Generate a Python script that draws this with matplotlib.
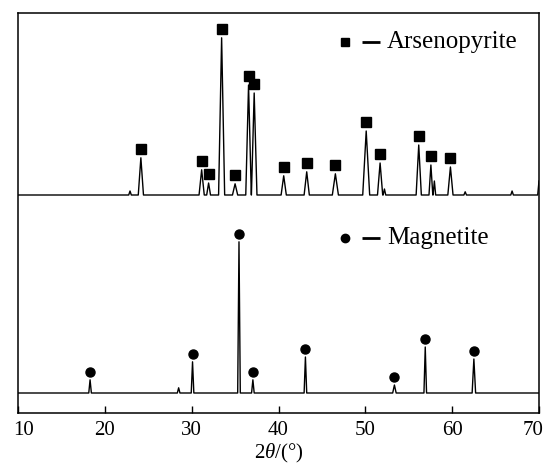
import matplotlib
matplotlib.use("Agg")
import matplotlib.pyplot as plt
import matplotlib.transforms as mtransforms

plt.rcParams['font.family'] = ['Liberation Serif', 'DejaVu Serif']
plt.rcParams['mathtext.fontset'] = 'custom'
plt.rcParams['mathtext.rm'] = 'Liberation Serif'
plt.rcParams['mathtext.it'] = 'Liberation Serif:italic'

# Arsenopyrite (upper trace): peak positions (2theta), peak tops (arb. units)
ars_pos = [24.15, 31.15, 31.95, 33.45, 35.0, 36.55, 37.2, 40.6, 43.25, 46.55,
           50.1, 51.7, 56.15, 57.55, 59.8]
ars_top = [63.8, 60.8, 57.5, 93.8, 57.3, 82.0, 80.0, 59.3, 60.3, 59.8,
           70.5, 62.5, 67.0, 62.0, 61.5]
ars_width = [0.3, 0.3, 0.22, 0.35, 0.3, 0.32, 0.32, 0.3, 0.3, 0.35,
             0.4, 0.3, 0.3, 0.22, 0.3]
# minor unlabeled bumps in the upper trace
ars_minor_pos = [22.9, 52.2, 57.95, 61.5, 66.9]
ars_minor_top = [55.5, 56.0, 58.0, 55.3, 55.5]
ars_base = 54.5
ars_end = 58.0

# Magnetite (lower trace)
mag_pos = [18.3, 30.1, 35.45, 37.05, 43.1, 53.35, 56.9, 62.5]
mag_top = [8.3, 12.8, 42.8, 8.3, 14.0, 7.0, 16.5, 13.5]
mag_width = [0.15, 0.15, 0.15, 0.15, 0.15, 0.2, 0.15, 0.2]
mag_minor_pos = [28.5]
mag_minor_top = [6.3]
mag_base = 5.0

xticks = [10, 20, 30, 40, 50, 60, 70]


def trace(pos, top, width, mpos, mtop, base, end=None):
    peaks = sorted(list(zip(pos, top, width)) +
                   [(p, t, 0.15) for p, t in zip(mpos, mtop)])
    xs, ys = [10.0], [base]
    for p, t, w in peaks:
        xs += [p - w, p, p + w]
        ys += [base, t, base]
    if end is None:
        xs.append(70.0); ys.append(base)
    else:
        xs += [69.85, 70.0]; ys += [base, end]
    return xs, ys


fig = plt.figure(figsize=(5.47, 4.74), dpi=100)
ax = fig.add_axes([18/547, 1 - 413/474, 521/547, 400/474])

x1, y1 = trace(ars_pos, ars_top, ars_width, ars_minor_pos, ars_minor_top, ars_base, ars_end)
x2, y2 = trace(mag_pos, mag_top, mag_width, mag_minor_pos, mag_minor_top, mag_base)
ax.plot(x1, y1, color='black', lw=1.0)
ax.plot(x2, y2, color='black', lw=1.0)

ax.plot(ars_pos, [t + 2.2 for t in ars_top], 's', color='black', ms=6.5, ls='none')
ax.plot(mag_pos, [t + 2.0 for t in mag_top], 'o', color='black', ms=6.5, ls='none')

# legend-style annotations
for yk, mk, label in [(0.9275, 's', 'Arsenopyrite'), (0.4375, 'o', 'Magnetite')]:
    ax.plot([0.6276], [yk], mk, color='black', ms=6, transform=ax.transAxes, clip_on=False)
    ax.plot([0.6603, 0.6948], [yk, yk], color='black', lw=2.0, transform=ax.transAxes,
            solid_capstyle='butt')
    ax.text(0.7083, yk, label, transform=ax.transAxes, ha='left', va='center',
            fontsize=18)

ax.set_xlim(10, 70)
ax.set_ylim(0, 100)
ax.set_xticks(xticks)
ax.set_xticklabels([str(t) for t in xticks], fontsize=15)
ax.set_yticks([])
ax.tick_params(axis='x', direction='in', length=5, width=1, pad=6, top=False)
labels = ax.get_xticklabels()
labels[0].set_transform(labels[0].get_transform() +
                        mtransforms.ScaledTranslation(6/100, 0, fig.dpi_scale_trans))
labels[-1].set_transform(labels[-1].get_transform() +
                         mtransforms.ScaledTranslation(-6/100, 0, fig.dpi_scale_trans))
for s in ax.spines.values():
    s.set_linewidth(1.1)
ax.set_xlabel(r'$2\theta$/(°)', fontsize=15, labelpad=1)

fig.savefig('out.png', dpi=100)
